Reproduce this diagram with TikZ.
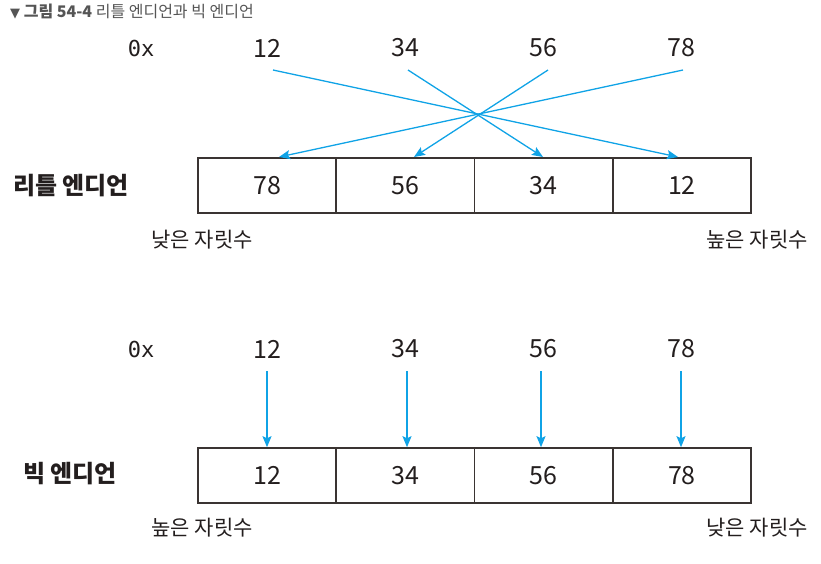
\documentclass[tikz,border=0pt]{standalone}
\usepackage{fontspec}
\setmainfont{Noto Sans CJK KR}
\newfontfamily\monofnt{DejaVu Sans Mono}
\newfontfamily\symfnt{DejaVu Sans}
\usetikzlibrary{arrows.meta}
\definecolor{arrowblue}{RGB}{16,163,230}
\definecolor{boxline}{RGB}{58,52,50}
\definecolor{txt}{RGB}{35,30,30}
\definecolor{titlegray}{RGB}{85,85,85}
\tikzset{
  cell/.style={draw=boxline, line width=1.6pt, minimum width=138.25pt, minimum height=55pt, inner sep=0pt, font=\fontsize{25}{25}\selectfont, text=txt},
  num/.style={font=\fontsize{25}{25}\selectfont, text=txt, inner sep=0pt},
  hex/.style={font=\monofnt\fontsize{22}{22}\selectfont, text=txt, inner sep=0pt},
  side/.style={font=\fontsize{21}{21}\selectfont, text=txt, inner sep=0pt},
  head/.style={font=\bfseries\fontsize{24}{24}\selectfont, text=txt, inner sep=0pt},
  conn/.style={draw=arrowblue, line width=1.3pt, -{Stealth[length=11pt,width=9pt,inset=2pt]}}
}
\begin{document}
\begin{tikzpicture}[x=1pt,y=-1pt]
\useasboundingbox (0,0) rectangle (821,563);
% title
\node[anchor=west, inner sep=0pt, text=titlegray, font=\fontsize{16}{16}\selectfont] (title) at (10,12)
  {{\symfnt\fontsize{13}{13}\selectfont ▼} \textbf{그림 54-4} 리틀 엔디언과 빅 엔디언};

% ---------- little endian ----------
\node[hex] (hx1) at (141,48) {0x};
\node[num] (a12) at (267,48) {12};
\node[num] (a34) at (405,48) {34};
\node[num] (a56) at (543,48) {56};
\node[num] (a78) at (681,48) {78};

\node[cell] (l1) at (267.1,185.5) {78};
\node[cell] (l2) at (405.4,185.5) {56};
\node[cell] (l3) at (543.6,185.5) {34};
\node[cell] (l4) at (681.9,185.5) {12};

\node[head] (lt) at (71,186) {리틀 엔디언};
\node[side] (lo1) at (202,240) {낮은 자릿수};
\node[side] (hi1) at (757,240) {높은 자릿수};

\coordinate (s12) at (273,70);
\coordinate (s34) at (408,70);
\coordinate (s56) at (548,70);
\coordinate (s78) at (683,70);
\coordinate (e12) at (678,157);
\coordinate (e34) at (543,157);
\coordinate (e56) at (414,157);
\coordinate (e78) at (279,157);
\draw[conn] (s12) -- (e12);
\draw[conn] (s34) -- (e34);
\draw[conn] (s56) -- (e56);
\draw[conn] (s78) -- (e78);

% ---------- big endian ----------
\node[hex] (hx2) at (141,349) {0x};
\node[num] (b12) at (267,349) {12};
\node[num] (b34) at (405,349) {34};
\node[num] (b56) at (543,349) {56};
\node[num] (b78) at (681,349) {78};

\node[cell] (g1) at (267.1,475.5) {12};
\node[cell] (g2) at (405.4,475.5) {34};
\node[cell] (g3) at (543.6,475.5) {56};
\node[cell] (g4) at (681.9,475.5) {78};

\node[head] (bt) at (70,474) {빅 엔디언};
\node[side] (hi2) at (202,528) {높은 자릿수};
\node[side] (lo2) at (757,528) {낮은 자릿수};

\draw[conn] (b12.south) ++(0,13) coordinate (t12) (t12) -- (t12 |- g1.north);
\draw[conn] (b34.south) ++(2,13) coordinate (t34) (t34) -- (t34 |- g2.north);
\draw[conn] (b56.south) ++(-2,13) coordinate (t56) (t56) -- (t56 |- g3.north);
\draw[conn] (b78.south) ++(0,13) coordinate (t78) (t78) -- (t78 |- g4.north);
\end{tikzpicture}
\end{document}
